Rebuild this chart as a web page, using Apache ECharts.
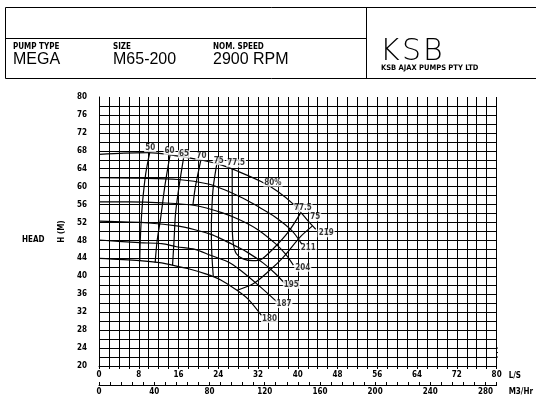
<!DOCTYPE html>
<html><head><meta charset="utf-8">
<script src="https://cdn.jsdelivr.net/npm/echarts@6/dist/echarts.min.js"></script>
<style>html,body{margin:0;padding:0;background:#fff}#c{width:536px;height:396px}</style>
</head><body><div id="c"></div>
<script>
// Impeller curves (Q in L/S, H in m)
const imp219 = [[0,67.2],[5,67.5],[10,67.6],[14.3,67.1],[20.3,66.0],[24.7,64.8],[28,63.4],[32.5,61.2],[35.9,59.0],[39.2,56.0],[42.1,52.3],[43.6,50.5]];
const imp211 = [[0,62.0],[8,61.9],[16,61.6],[22,60.6],[25.5,59.2],[29,57.4],[32.1,55.5],[35.5,53.2],[38.8,50.2],[40.8,47.2]];
const imp204 = [[0,56.6],[6,56.6],[12.6,56.4],[19.3,55.8],[24.7,54.2],[28.5,52.5],[32.1,50.3],[35.5,47.3],[37.5,45.0],[39.1,42.5]];
const imp195 = [[0,52.3],[10,51.9],[16,51.2],[19.3,50.4],[22.4,49.4],[24.7,48.3],[27.4,46.8],[29.8,45.4],[33,43.0],[35.3,40.8],[37.4,38.4]];
const imp187 = [[0,48.1],[8.2,47.5],[12.6,47.3],[15.6,46.6],[19.3,46.0],[22.4,44.7],[26,43.2],[28.4,41.4],[32.4,37.7],[35.8,34.3]];
const imp180 = [[0,44.0],[8.2,43.5],[12.6,43.0],[14.3,42.6],[18,41.7],[21.3,40.6],[24.5,39.2],[27.6,37.0],[30,34.9],[32.8,31.1]];
// Iso-efficiency curves
const eff50 = [[10.2,67.6],[9.4,62.9],[8.8,57],[8.5,52.5],[8.3,48],[8.2,43.5]];
const eff60 = [[14.3,67.1],[13.3,60.5],[12.4,53],[11.7,48],[11.3,43.1]];
const eff65 = [[17.1,67.0],[16.1,60],[15.4,54],[15.1,48],[14.8,42.5]];
const eff70 = [[20.5,66.0],[19.4,60],[18.9,55.9]];
const eff75L = [[23.7,65.1],[23.0,60],[22.7,55],[22.6,50],[22.7,45],[23.0,39.9]];
const eff775 = [[26.8,64.0],[26.8,58],[26.8,52],[27.0,47.5],[27.6,45.1],[29,43.9],[31,43.5],[32.5,43.7],[35.1,46.2],[38.1,49.9],[40.6,54.2]];
const eff75R = [[42.9,51.2],[40.5,48.8],[37.1,44.3],[34.4,41.4],[31.1,38.4],[27.8,36.9]];
// Labels
const effLabels = [[10.3,68.6,'50'],[14.2,67.9,'60'],[17.1,67.2,'65'],[20.6,66.8,'70'],[24.1,65.7,'75'],[27.6,65.2,'77.5'],[35.0,60.9,'80%'],[41.0,55.2,'77.5'],[43.5,53.2,'75']];
const impLabels = [[45.7,49.6,'219'],[42.1,46.3,'211'],[41.0,41.9,'204'],[38.7,38.1,'195'],[37.2,33.8,'187'],[34.3,30.5,'180']];
const extLines = [[[80,24],[82.6,24]],[[80,23],[82.6,23]],[[80,22],[82.6,22]]];

const F = "'DejaVu Sans Condensed','Liberation Sans Narrow','DejaVu Sans',sans-serif";
const THIN = "'DejaVu Sans','Liberation Sans',sans-serif";
const MID = "'Liberation Sans','DejaVu Sans',sans-serif";
const chart = echarts.init(document.getElementById('c'), null, {renderer:'canvas'});

const curveStyle = {color:'#000', width:1.2};
function curve(name, data){
  return {name, type:'line', data, smooth:0.3, symbol:'none', showSymbol:false, silent:true,
    lineStyle:curveStyle, z:3, animation:false};
}
function labelSeries(name, arr){
  return {name, type:'scatter', symbolSize:1, itemStyle:{color:'transparent'}, silent:true, z:10, animation:false,
    data: arr.map(a=>({value:[a[0],a[1]], name:a[2]})),
    label:{show:true, position:'inside', formatter:'{b}', color:'#000', fontSize:8, fontWeight:'bold', fontFamily:F,
      backgroundColor:'#fff', padding:[0,1,0,1]}};
}
const series = [
  curve('219',imp219),curve('211',imp211),curve('204',imp204),curve('195',imp195),curve('187',imp187),curve('180',imp180),
  curve('e50',eff50),curve('e60',eff60),curve('e65',eff65),curve('e70',eff70),curve('e75L',eff75L),curve('e775',eff775),curve('e75R',eff75R),
  labelSeries('effLab',effLabels), labelSeries('impLab',impLabels)
];
extLines.forEach((l,i)=>series.push({name:'ext'+i,type:'line',data:l,symbol:'none',clip:false,silent:true,animation:false,lineStyle:{color:'#000',width:1}}));

const gridLine = {show:true, lineStyle:{color:'#000', width:1}};
chart.setOption({
  animation:false,
  backgroundColor:'#fff',
  grid:{left:99, right:39, top:97, bottom:30},
  xAxis:[
    {type:'value', min:0, max:80, interval:8, position:'bottom',
     axisLine:{show:true, onZero:false, lineStyle:{color:'#000',width:1}},
     axisTick:{show:true, length:3, lineStyle:{color:'#000'}},
     minorTick:{show:true, splitNumber:4, length:3, lineStyle:{color:'#000'}},
     axisLabel:{color:'#000', fontSize:8, fontWeight:'bold', fontFamily:F, margin:5},
     splitLine:gridLine, minorSplitLine:gridLine,
     name:'L/S', nameLocation:'end', nameGap:12, nameTextStyle:{color:'#000', fontSize:8, fontWeight:'bold', fontFamily:F, verticalAlign:'top', padding:[6,0,0,0]}},
    {type:'value', min:0, max:288, interval:40, position:'bottom', offset:19,
     axisLine:{show:true, onZero:false, lineStyle:{color:'#000',width:1}},
     axisTick:{show:true, inside:true, length:3, lineStyle:{color:'#000'}},
     minorTick:{show:true, splitNumber:5, length:3, lineStyle:{color:'#000'}},
     axisLabel:{color:'#000', fontSize:8, fontWeight:'bold', fontFamily:F, margin:3, showMaxLabel:false},
     splitLine:{show:false},
     name:'M3/Hr', nameLocation:'end', nameGap:12, nameTextStyle:{color:'#000', fontSize:8, fontWeight:'bold', fontFamily:F, verticalAlign:'top', padding:[3,0,0,0]}}
  ],
  yAxis:{type:'value', min:20, max:80, interval:4,
    axisLine:{show:true, lineStyle:{color:'#000',width:1}},
    axisTick:{show:false},
    axisLabel:{color:'#000', fontSize:8, fontWeight:'bold', fontFamily:F, margin:12},
    splitLine:{show:true, showMaxLine:false, lineStyle:{color:'#000',width:1}},
    minorSplitLine:gridLine, minorTick:{show:false, splitNumber:2},
    name:'H (M)', nameLocation:'middle', nameGap:33, nameRotate:90,
    nameTextStyle:{color:'#000', fontSize:8, fontWeight:'bold', fontFamily:F}},
  graphic:[
    {type:'rect', shape:{x:5.5,y:7.5,width:540,height:71}, style:{fill:'none', stroke:'#000', lineWidth:1}, silent:true},
    {type:'line', shape:{x1:5,y1:38.5,x2:367,y2:38.5}, style:{stroke:'#000', lineWidth:1}, silent:true},
    {type:'line', shape:{x1:366.5,y1:7,x2:366.5,y2:78}, style:{stroke:'#000', lineWidth:1}, silent:true},
    {type:'text', left:13, top:43, style:{text:'PUMP TYPE', font:"bold 8px "+F, fill:'#000'}},
    {type:'text', left:13, top:52, style:{text:'MEGA', font:"normal 16px "+MID, fill:'#000'}},
    {type:'text', left:113, top:43, style:{text:'SIZE', font:"bold 8px "+F, fill:'#000'}},
    {type:'text', left:113, top:52, style:{text:'M65-200', font:"normal 16px "+MID, fill:'#000'}},
    {type:'text', left:213, top:43, style:{text:'NOM. SPEED', font:"bold 8px "+F, fill:'#000'}},
    {type:'text', left:213, top:52, style:{text:'2900 RPM', font:"normal 16px "+MID, fill:'#000'}},
    {type:'text', left:380, top:37, style:{text:'K', font:"200 30px "+THIN, fill:'#000'}},
    {type:'text', left:402, top:37, style:{text:'S', font:"200 30px "+THIN, fill:'#000'}},
    {type:'text', left:423, top:37, style:{text:'B', font:"200 30px "+THIN, fill:'#000'}},
    {type:'text', left:381, top:64, style:{text:'KSB AJAX PUMPS PTY LTD', font:"bold 7.5px "+F, fill:'#000'}},
    {type:'text', left:22, top:236, style:{text:'HEAD', font:"bold 8px "+F, fill:'#000'}}
  ],
  series
});
</script></body></html>
